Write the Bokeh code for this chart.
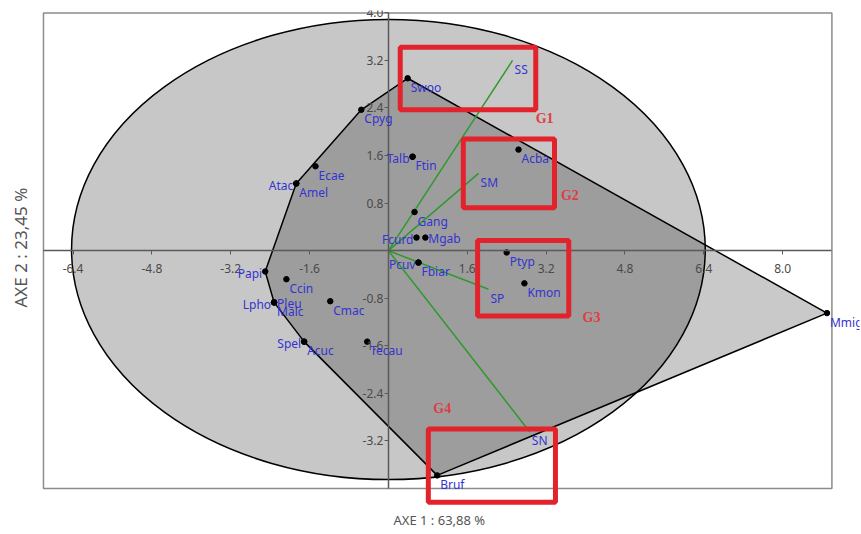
import numpy as np
from bokeh.plotting import figure
from bokeh.models import (ColumnDataSource, FixedTicker, PrintfTickFormatter, Title,
                          BoxAnnotation, LabelSet, Range1d)
from bokeh.core.properties import value
from bokeh.embed import file_html
from bokeh.resources import INLINE

# ---------------- data ----------------
species = ["Swoo", "Cpyg", "Talb", "Ftin", "Ecae", "Atac", "Amel", "Acba", "Gang",
           "Fcurd", "Mgab", "Pcuv", "Fbiar", "Ptyp", "Kmon", "Papi", "Ccin", "Lpho",
           "Pleu", "Malc", "Cmac", "Spel", "Acuc", "Tecau", "Bruf", "Mmig"]
axe1 = [0.39, -0.55, 0.49, 0.49, -1.48, -1.87, -1.87, 2.64, 0.53,
        0.57, 0.75, 0.61, 0.61, 2.40, 2.76, -2.50, -2.07, -2.32,
        -2.32, -2.32, -1.18, -1.71, -1.71, -0.43, 0.99, 8.90]
axe2 = [2.90, 2.37, 1.58, 1.58, 1.42, 1.13, 1.13, 1.70, 0.65,
        0.22, 0.22, -0.20, -0.20, -0.03, -0.55, -0.35, -0.48, -0.87,
        -0.87, -0.87, -0.85, -1.53, -1.53, -1.53, -3.78, -1.05]

variables = ["SS", "SM", "SP", "SN"]
var_axe1 = [2.52, 1.83, 2.03, 2.87]
var_axe2 = [3.20, 1.30, -0.65, -3.05]

groups = ["G1", "G2", "G3", "G4"]
grp_left = [0.24, 1.52, 1.81, 0.81]
grp_right = [2.99, 3.37, 3.66, 3.39]
grp_top = [3.42, 1.88, 0.17, -3.00]
grp_bottom = [2.37, 0.72, -1.10, -4.23]
grp_label_x = [2.99, 3.50, 3.94, 0.91]
grp_label_y = [2.22, 0.92, -1.12, -2.65]

ellipse_center = (0.0, 0.02)
ellipse_axes = (6.43, 3.87)

x_ticks = [-6.4, -4.8, -3.2, -1.6, 1.6, 3.2, 4.8, 6.4, 8.0]
y_ticks = [-3.2, -2.4, -1.6, -0.8, 0.8, 1.6, 2.4, 3.2, 4.0]
x_bounds = (-7.0, 9.0)
y_bounds = (-4.0, 4.0)

# label placement style (left of the dot / beside the dot / default below-right)
left_labels = {"Talb", "Atac", "Fcurd", "Pcuv", "Papi", "Lpho", "Spel"}
side_labels = {"Mgab", "Pleu"}

# ---------------- helpers ----------------
def convex_hull(xs, ys):
    pts = sorted(set(zip(xs, ys)))
    def cross(o, a, b):
        return (a[0] - o[0]) * (b[1] - o[1]) - (a[1] - o[1]) * (b[0] - o[0])
    lower, upper = [], []
    for p_ in pts:
        while len(lower) >= 2 and cross(lower[-2], lower[-1], p_) <= 0:
            lower.pop()
        lower.append(p_)
    for p_ in reversed(pts):
        while len(upper) >= 2 and cross(upper[-2], upper[-1], p_) <= 0:
            upper.pop()
        upper.append(p_)
    hull = lower[:-1] + upper[:-1]
    return [h[0] for h in hull], [h[1] for h in hull]

FONT = "Noto Sans"
BLUE = "#3434d0"
RED = "#e3232b"

p = figure(frame_width=818, frame_height=497,
           x_range=Range1d(-7.04, 9.56), y_range=Range1d(-4.32, 4.04),
           output_backend="svg", toolbar_location=None,
           min_border=0, min_border_left=41, min_border_right=1,
           min_border_top=10, min_border_bottom=26)
p.grid.visible = False
p.background_fill_color = "white"
p.border_fill_color = "white"
p.outline_line_color = None

# plot box
p.quad(left=[x_bounds[0]], right=[x_bounds[1]], top=[y_bounds[1]], bottom=[y_bounds[0]],
       fill_alpha=0, line_color="#8c8c8c", line_width=1.5)

# axes through the origin
for ax, ticks, bnds in ((p.xaxis[0], x_ticks, x_bounds), (p.yaxis[0], y_ticks, y_bounds)):
    ax.fixed_location = 0
    ax.bounds = bnds
    ax.ticker = FixedTicker(ticks=ticks)
    ax.formatter = PrintfTickFormatter(format="%.1f")
    ax.axis_line_color = "#5a5a5a"
    ax.axis_line_width = 1.5
    ax.major_tick_line_color = "#5a5a5a"
    ax.major_tick_out = 4
    ax.major_tick_in = 0
    ax.minor_tick_line_color = None
    ax.major_label_text_font = FONT
    ax.major_label_text_font_size = "12px"
    ax.major_label_text_color = "#4a4a4a"
p.xaxis[0].major_label_standoff = 9
p.yaxis[0].major_label_standoff = 1

p.add_layout(Title(text="AXE 1 : 63,88 %", align="left", offset=352, text_font=FONT,
                   text_font_size="13px", text_font_style="normal",
                   text_color="#555555", standoff=3), "below")
p.add_layout(Title(text="AXE 2 : 23,45 %", align="left", offset=200, text_font=FONT,
                   text_font_size="17px", text_font_style="normal",
                   vertical_align="top", text_color="#555555", standoff=16), "left")

# ellipse
p.ellipse(x=[ellipse_center[0]], y=[ellipse_center[1]],
          width=[2 * ellipse_axes[0]], height=[2 * ellipse_axes[1]],
          fill_color="black", fill_alpha=0.22, line_color="black", line_width=1.5)

# convex hull of the species
hx, hy = convex_hull(axe1, axe2)
p.patch(hx, hy, fill_color="black", fill_alpha=0.21, line_color="black", line_width=1.5)

# variable vectors
p.segment(x0=[0] * len(variables), y0=[0] * len(variables), x1=var_axe1, y1=var_axe2,
          line_color="#2e9a2e", line_width=1.5)

# species points
src = ColumnDataSource(dict(x=axe1, y=axe2, name=species))
p.scatter("x", "y", source=src, size=5.5, color="black")

def sub(names_filter):
    idx = [i for i, s in enumerate(species) if names_filter(s)]
    return ColumnDataSource(dict(x=[axe1[i] for i in idx], y=[axe2[i] for i in idx],
                                 name=[species[i] for i in idx]))

common = dict(text_font=value(FONT), text_font_size="12px", text_color=BLUE,
              text_baseline="middle")
p.add_layout(LabelSet(x="x", y="y", text="name",
                      source=sub(lambda s: s not in left_labels and s not in side_labels),
                      x_offset=3, y_offset=-9, text_align="left", **common))
p.add_layout(LabelSet(x="x", y="y", text="name", source=sub(lambda s: s in left_labels),
                      x_offset=-3, y_offset=-2, text_align="right", **common))
p.add_layout(LabelSet(x="x", y="y", text="name", source=sub(lambda s: s in side_labels),
                      x_offset=3, y_offset=-1, text_align="left", **common))

vsrc = ColumnDataSource(dict(x=var_axe1, y=var_axe2, name=variables))
p.add_layout(LabelSet(x="x", y="y", text="name", source=vsrc,
                      x_offset=2, y_offset=-9, text_align="left", **common))

# group boxes
for l, r, t, b in zip(grp_left, grp_right, grp_top, grp_bottom):
    p.add_layout(BoxAnnotation(left=l, right=r, top=t, bottom=b, fill_alpha=0,
                               line_color=RED, line_width=5, line_alpha=1))
gsrc = ColumnDataSource(dict(x=grp_label_x, y=grp_label_y, name=groups))
p.add_layout(LabelSet(x="x", y="y", text="name", source=gsrc, text_align="left",
                      text_baseline="middle", text_font=value("Liberation Serif"),
                      text_font_style="bold", text_font_size="14px", text_color="#e03c44"))

open("out.html", "w").write(file_html(p, INLINE))
